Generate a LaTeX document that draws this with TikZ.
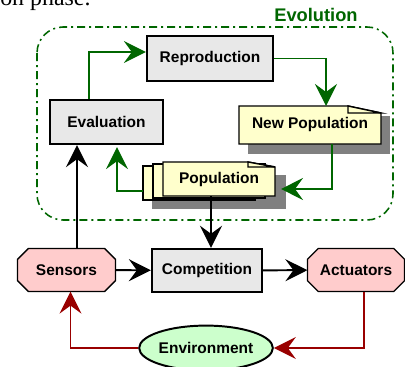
\documentclass[tikz,border=0pt]{standalone}
\usepackage{fontspec}
\setmainfont{Liberation Sans}
\newfontfamily\capfont{Liberation Serif}
\usepackage{tikz}
\usetikzlibrary{
    arrows.meta,
    shapes.geometric,
    calc,
    backgrounds
}
\definecolor{evogreen}{RGB}{0,102,0}
\definecolor{envred}{RGB}{153,0,0}
\definecolor{boxgray}{RGB}{232,232,232}
\definecolor{notefill}{RGB}{255,255,204}
\definecolor{octofill}{RGB}{255,204,204}
\definecolor{envfill}{RGB}{204,255,204}
\definecolor{shadowgray}{RGB}{128,128,128}
\tikzset{
    every node/.style={font=\bfseries\fontsize{11}{13}\selectfont, inner sep=0pt},
    procbox/.style={draw, line width=1.6pt, fill=boxgray},
    textbox/.style={outer sep=0pt},
    envbox/.style={ellipse, draw, line width=1.4pt, fill=envfill},
    notepage/.style={draw, line width=1pt, fill=notefill},
    octopage/.style={draw, line width=0.9pt, fill=octofill},
    evoframe/.style={evogreen, line width=1.1pt, rounded corners=0.65cm,
        dash pattern=on 0.2cm off 0.1cm on 0.05cm off 0.1cm},
    bigtip/.style={-{Stealth[length=0.55cm, width=0.55cm, inset=0.2cm]}},
    evoflow/.style={evogreen, line width=1pt, bigtip},
    mainflow/.style={black, line width=1.4pt, bigtip},
    envflow/.style={envred, line width=1.1pt, bigtip}
}
% note page with a folded corner: #1 node, #2 fold width, #3 fold height
\newcommand{\notepath}[3]{%
    \filldraw[notepage] (#1.north west) -- ($(#1.north east)+(-#2,0)$)
        -- ($(#1.north east)+(0,#3)$) -- (#1.south east) -- (#1.south west) -- cycle;
    \filldraw[notepage] ($(#1.north east)+(-#2,0)$) -- ++(0,#3)
        -- ($(#1.north east)+(0,#3)$) -- cycle;}
% octagon round a node
\newcommand{\octopath}[1]{%
    \filldraw[octopage] ($(#1.north west)+(11,0)$) -- ($(#1.north east)+(-11,0)$)
        -- ($(#1.north east)+(0,11)$) -- ($(#1.south east)+(0,-11)$)
        -- ($(#1.south east)+(-11,0)$) -- ($(#1.south west)+(11,0)$)
        -- ($(#1.south west)+(0,-11)$) -- ($(#1.north west)+(0,11)$) -- cycle;}

\begin{document}
\begin{tikzpicture}[x=0.025cm, y=-0.025cm]
    \useasboundingbox (0,0) rectangle (405,366);

    \node[anchor=base west, font=\capfont\fontsize{17}{20}\selectfont] (cap) at (0,5.5) {on phase.};

    % evolution loop
    \node[evogreen, font=\bfseries\fontsize{13}{15}\selectfont] (evolabel) at (316,15) {Evolution};
    \draw[evoframe] (37,27) rectangle (393,220);

    \node[procbox, minimum width=3.15cm, minimum height=1.13cm] (repro) at (210,58.5) {Reproduction};
    \node[procbox, minimum width=2.83cm, minimum height=1.1cm] (eval) at (106.5,122) {Evaluation};
    \node[textbox, minimum width=3.55cm, minimum height=0.95cm] (newpop) at (310,125) {New Population};
    \node[textbox, minimum width=2.8cm, minimum height=0.85cm] (pop) at (219,179) {Population};

    % agent
    \node[textbox, minimum width=2.45cm, minimum height=1.08cm] (sensors) at (66.5,270) {Sensors};
    \node[procbox, minimum width=2.75cm, minimum height=1.08cm] (comp) at (207,270.5) {Competition};
    \node[textbox, minimum width=2.43cm, minimum height=1.08cm] (actuators) at (356,270) {Actuators};
    \node[envbox, minimum width=3.2cm, minimum height=1.12cm] (env) at (206,348) {Environment};

    \begin{pgfonlayer}{background}
        \fill[shadowgray] ($(newpop.north west)+(9,10)$) rectangle ($(newpop.south east)+(9,10)$);
        \notepath{newpop}{33}{7}
        \fill[shadowgray] ($(pop.north west)+(-11,13)$) rectangle ($(pop.south east)+(11,13)$);
        \filldraw[notepage] ($(pop.north west)+(-20,4)$) rectangle ($(pop.south east)+(-20,4)$);
        \filldraw[notepage] ($(pop.north west)+(-10,2)$) rectangle ($(pop.south east)+(-10,2)$);
        \notepath{pop}{27}{5}
        \octopath{sensors}
        \octopath{actuators}
    \end{pgfonlayer}

    \draw[evoflow] ($(eval.north)+(-17.5,0)$) |- ($(repro.west)+(0,-6.5)$);
    \draw[evoflow] (repro.east) -| ($(newpop.north)+(16,0)$);
    \draw[evoflow] ($(newpop.south)+(22,0)$) |- ($(pop.east)+(6,10)$);
    \draw[evoflow] ($(pop.west)+(-20,12)$) -| ($(eval.south)+(10.5,2)$);

    \coordinate (sensup) at ($(sensors.north)+(10.5,0)$);
    \coordinate (popdown) at ($(pop.south)+(-8,0)$);
    \draw[mainflow] (sensup) -- (sensup |- eval.south);
    \draw[mainflow] (popdown) -- (popdown |- comp.north);
    \draw[mainflow] (sensors) -- (comp);
    \draw[mainflow] (comp) -- (actuators);

    \draw[envflow] ($(actuators.south)+(8,0)$) |- (env.east);
    \draw[envflow] (env.west) -| ($(sensors.south)+(4,0)$);
\end{tikzpicture}
\end{document}
